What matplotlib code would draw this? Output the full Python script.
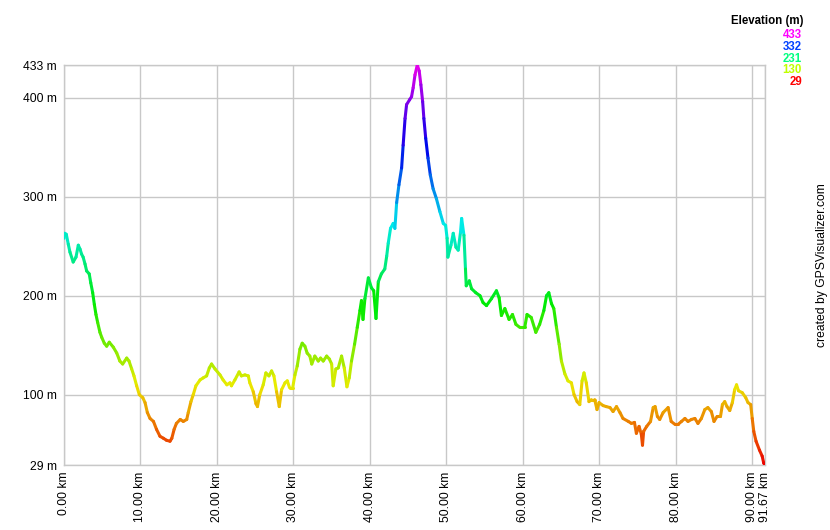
import colorsys
import matplotlib
matplotlib.use("Agg")
import matplotlib.pyplot as plt
import numpy as np
from matplotlib.collections import LineCollection

plt.rcParams['font.family'] = ['Liberation Sans', 'DejaVu Sans']

# profile: distance (km) and elevation (m)
dist_km = [
    0.0, 0.1, 0.3, 0.56, 0.78, 1.2, 1.57, 1.87, 2.1, 2.3, 2.5, 2.75, 2.96, 3.3, 3.5,
    3.75, 3.97, 4.18, 4.4, 4.7, 4.93, 5.27, 5.58, 5.92, 6.45, 6.9, 7.3, 7.67, 8.2,
    8.5, 8.85, 9.15, 9.5, 9.85, 10.3, 10.6, 10.9, 11.25, 11.7, 12.1, 12.55, 13.0,
    13.4, 13.86, 14.1, 14.4, 14.7, 15.2, 15.6, 16.05, 16.25, 16.6, 16.9, 17.25,
    17.8, 18.2, 18.65, 19.0, 19.3, 19.75, 20.4, 20.8, 21.3, 21.7, 21.9, 22.35,
    22.9, 23.2, 23.66, 24.1, 24.3, 24.75, 25.1, 25.3, 25.6, 26.05, 26.4, 26.8,
    27.15, 27.45, 27.8, 28.15, 28.45, 28.9, 29.2, 29.5, 29.9, 30.2, 30.5, 30.85,
    31.15, 31.5, 31.8, 32.15, 32.4, 32.8, 33.25, 33.55, 33.9, 34.35, 34.7, 35.0,
    35.2, 35.55, 35.86, 36.3, 36.65, 37.0, 37.3, 37.6, 38.0, 38.35, 38.7, 38.9,
    39.1, 39.35, 39.8, 40.2, 40.5, 40.8, 41.1, 41.5, 41.95, 42.2, 42.4, 42.7,
    43.05, 43.27, 43.5, 43.8, 44.15, 44.35, 44.6, 44.8, 45.2, 45.45, 45.66, 45.9,
    46.2, 46.45, 46.67, 46.9, 47.06, 47.3, 47.6, 47.9, 48.27, 48.7, 49.15, 49.6,
    49.9, 50.1, 50.2, 50.6, 50.9, 51.25, 51.55, 51.85, 52.0, 52.3, 52.5, 52.6,
    53.0, 53.3, 53.85, 54.4, 54.8, 55.25, 55.9, 56.55, 56.9, 57.2, 57.65, 58.2,
    58.65, 59.1, 59.6, 60.25, 60.55, 61.1, 61.7, 62.2, 62.75, 63.1, 63.4, 63.75,
    64.05, 64.4, 64.75, 65.05, 65.5, 65.9, 66.35, 66.7, 67.1, 67.45, 67.75, 68.0,
    68.3, 68.65, 68.97, 69.4, 69.7, 69.97, 70.5, 70.9, 71.4, 71.8, 72.25, 72.7,
    73.1, 73.8, 74.2, 74.6, 74.85, 75.2, 75.5, 75.65, 75.8, 76.2, 76.7, 77.05,
    77.3, 77.6, 77.9, 78.35, 79.0, 79.4, 79.9, 80.3, 80.75, 81.2, 81.6, 82.05,
    82.5, 82.9, 83.35, 83.8, 84.2, 84.65, 85.0, 85.4, 85.85, 86.1, 86.4, 86.7,
    87.06, 87.4, 87.7, 87.95, 88.2, 88.7, 89.15, 89.45, 89.8, 90.0, 90.2, 90.5,
    90.95, 91.3, 91.5, 91.67,
]
elev_m = [
    258, 263, 262, 252, 244, 234, 239, 251, 247, 242, 239, 232, 225, 222, 213,
    203, 191, 181, 173, 163, 158, 152, 149, 153, 148, 142, 134, 131, 137,
    134, 126, 119, 109, 100, 97, 92, 82, 76, 73, 65, 58, 56,
    54, 53, 56, 65, 71, 75, 73, 75, 82, 93, 100, 109,
    115, 117, 119, 127, 131, 126, 120, 115, 110, 112, 109, 115,
    123, 119, 120, 119, 112, 103, 91, 88, 100, 110, 122, 119,
    124, 119, 103, 88, 105, 112, 114, 107, 107, 120, 129, 146,
    152, 149, 142, 139, 131, 139, 134, 137, 134, 139, 136, 131,
    109, 126, 127, 139, 127, 108, 117, 134, 151, 168, 185, 195,
    176, 197, 218, 208, 205, 177, 214, 222, 227, 240, 253, 268,
    273, 268, 294, 312, 329, 352, 379, 393, 398, 401, 410, 423,
    433, 427, 413, 396, 379, 359, 339, 322, 308, 298, 285, 273,
    271, 258, 239, 251, 263, 249, 246, 264, 278, 261, 227, 210,
    215, 207, 203, 200, 193, 190, 197, 205, 198, 180, 187, 176,
    181, 171, 168, 168, 181, 178, 163, 171, 185, 200, 203, 192,
    187, 168, 151, 134, 121, 114, 112, 100, 93, 90, 114, 122,
    112, 93, 95, 95, 85, 92, 89, 88, 87, 83, 88, 82,
    76, 73, 71, 72, 61, 68, 60, 49, 63, 68, 73, 87,
    88, 78, 75, 82, 87, 73, 70, 70, 73, 76, 73, 75,
    76, 71, 76, 85, 87, 83, 73, 78, 78, 90, 93, 88,
    84, 92, 105, 110, 104, 102, 97, 92, 90, 76, 63, 53,
    44, 38, 31, 29,
]

legend_vals = [433, 332, 231, 130, 29]
y_ticks = [29, 100, 200, 300, 400, 433]
x_ticks = [0, 10, 20, 30, 40, 50, 60, 70, 80, 90, 91.67]

e_min, e_max = 29, 433
grid_col = '#c8c8c8'


def elev_colour(e, v=0.92):
    h = 300.0 / 360.0 * (e - e_min) / (e_max - e_min)
    return colorsys.hsv_to_rgb(max(0.0, min(h, 300 / 360)), 1.0, v)


x = np.array(dist_km)
y = np.array(elev_m, dtype=float)
pts = np.column_stack([x, y]).reshape(-1, 1, 2)
segs = np.concatenate([pts[:-1], pts[1:]], axis=1)
cols = [elev_colour((a + b) / 2) for a, b in zip(y[:-1], y[1:])]

fig = plt.figure(figsize=(8.3, 5.3), dpi=100)
ax = fig.add_axes([64 / 830, 1 - 465 / 530, 701 / 830, 400 / 530])

ax.add_collection(LineCollection(segs, colors=cols, linewidths=2.2,
                                 capstyle='round', joinstyle='round', zorder=3))
ax.set_xlim(0, 91.67)
ax.set_ylim(29, 433)

ax.set_xticks(x_ticks)
ax.set_xticklabels([f"{t:.2f} km" for t in x_ticks], rotation=90,
                   va='top', ha='center', fontsize=8.7)
ax.set_yticks(y_ticks)
ax.set_yticklabels([f"{t} m" for t in y_ticks], fontsize=8.7)
ax.tick_params(length=0, pad=5)
ax.grid(True, color=grid_col, linewidth=1)
for s in ax.spines.values():
    s.set_color(grid_col)
    s.set_linewidth(1)

# legend of colours
fig.text(803 / 830, 1 - 21 / 530, "Elevation (m)", ha='right', va='center',
         fontsize=8.3, fontweight='bold')
for i, v in enumerate(legend_vals):
    fig.text(802 / 830, 1 - (35 + i * 11.8) / 530, str(v), ha='right', va='center',
             fontsize=8.3, fontweight='bold', color=elev_colour(v, 1.0))

fig.text(822 / 830, 1 - 265 / 530, "created by GPSVisualizer.com", rotation=90,
         ha='center', va='center', fontsize=8.7)

fig.savefig("out.png", dpi=100)
